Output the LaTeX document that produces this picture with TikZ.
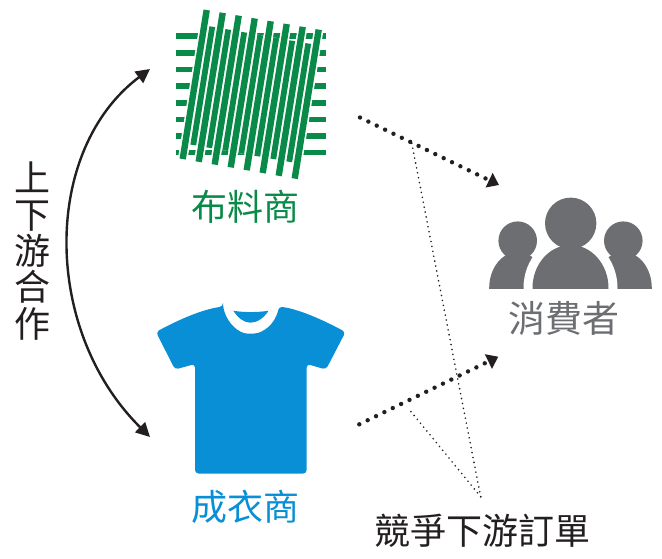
\documentclass[tikz,border=0pt]{standalone}
\usepackage{fontspec}
\setmainfont{Noto Sans CJK TC}
\usetikzlibrary{arrows.meta}
\definecolor{fabricgreen}{RGB}{10,138,72}
\definecolor{shirtblue}{RGB}{8,143,214}
\definecolor{peoplegray}{RGB}{109,110,113}
\definecolor{inkdark}{RGB}{35,31,32}
\tikzset{
  label36/.style={font=\fontsize{36}{36.4}\selectfont,inner sep=0pt,align=center},
  weft/.style={draw=fabricgreen,line width=5.6pt},
  halolong/.style={draw=white,line width=9.6pt},
  haloshort/.style={draw=white,line width=9pt},
  warplong/.style={draw=fabricgreen,line width=6.4pt},
  warpshort/.style={draw=fabricgreen,line width=5.8pt},
  bigdots/.style={draw=inkdark,line width=4.4pt,line cap=round,dash pattern=on 0pt off 9.3pt,
    -{Triangle[length=11pt,width=15.5pt]}},
  finedots/.style={draw=inkdark,line width=1.8pt,line cap=round,dash pattern=on 0pt off 5pt},
  curved/.style={draw=inkdark,line width=2.4pt,{Triangle[length=14pt,width=14pt]}-{Triangle[length=14pt,width=14pt]}},
}
\begin{document}
\begin{tikzpicture}[x=1pt,y=-1pt]
\useasboundingbox (0,0) rectangle (662,558);
% fabric
\foreach \y in {36,52.7,69.3,86,102.7,119.3,136,152.3}
  \draw[weft] (176,\y) -- (326,\y);
\foreach \i in {0,...,6}
  \draw[haloshort] ({212.25+16*\i},{26.7+2.8*\i}) -- ({193.25+16*\i},{145+2.8*\i});
\foreach \i in {0,...,7}
  \draw[halolong] ({206.7+16*\i},{10+2.8*\i}) -- ({182.7+16*\i},{159+2.8*\i});
\foreach \i in {0,...,6}
  \draw[warpshort] ({212.25+16*\i},{26.7+2.8*\i}) -- ({193.25+16*\i},{145+2.8*\i});
\foreach \i in {0,...,7}
  \draw[warplong] ({206.7+16*\i},{10+2.8*\i}) -- ({182.7+16*\i},{159+2.8*\i});
\node[label36,text=fabricgreen] (fabric) at (245,207) {布料商};
% shirt
\fill[shirtblue,rounded corners=3.5pt] (223,306.5)
  .. controls (228,325) and (240,333.5) .. (250.5,333.5)
  .. controls (262,333.5) and (275,325) .. (279,306.5)
  .. controls (300,309.5) and (323,320) .. (345.5,332)
  -- (326,369.5) -- (306.7,364) -- (306.7,473.5) -- (195,473.5) -- (195,364) -- (175,369.5) -- (156,332)
  .. controls (178,320) and (202,309.5) .. (223,306.5) -- cycle;
\fill[shirtblue] (233.3,310.7) .. controls (238,318) and (244,322.7) .. (250.5,322.7)
  .. controls (257,322.7) and (264,318) .. (268.5,310.7)
  .. controls (258,312.5) and (243,312.5) .. (233.3,310.7) -- cycle;
\node[label36,text=shirtblue] (shirt) at (245,507) {成衣商};
% people
\begin{scope}
  \clip (480,190) rectangle (662,288);
  \fill[peoplegray] (517.7,288) ellipse [x radius=28.5,y radius=36];
  \fill[peoplegray] (623.3,288) ellipse [x radius=28.5,y radius=36];
  \fill[white] (570.5,288) ellipse [x radius=47,y radius=52];
  \fill[peoplegray] (570.5,288) ellipse [x radius=38,y radius=43];
\end{scope}
\fill[peoplegray] (517.7,240.7) circle [radius=19.3];
\fill[peoplegray] (623.3,240.7) circle [radius=19.3];
\fill[peoplegray] (570.7,223.3) circle [radius=25.7];
\node[label36,text=peoplegray,font=\fontsize{37}{38}\selectfont] (people) at (564,318) {消費者};
% left text and arc
\node[label36,text=inkdark] (coop) at (32,251) {上\\下\\游\\合\\作};
\coordinate (upTip) at (150,69);
\coordinate (downTip) at (150,437);
\draw[curved] (downTip) .. controls (42,330) and (42,150) .. (upTip);
% arrows
\coordinate (a1s) at (360,117.5);
\coordinate (a1e) at (499,185);
\coordinate (a2s) at (359.3,424.3);
\coordinate (a2e) at (498.3,356.7);
\draw[bigdots] (a1s) -- (a1e);
\draw[bigdots] (a2s) -- (a2e);
\coordinate (apex) at (480.7,496.7);
\coordinate (t1) at (411.7,143);
\coordinate (t2) at (408,408);
\draw[finedots] (apex) -- (t1);
\draw[finedots] (apex) -- (t2);
\node[label36,text=inkdark] (orders) at (482,531) {競爭下游訂單};
\end{tikzpicture}
\end{document}
